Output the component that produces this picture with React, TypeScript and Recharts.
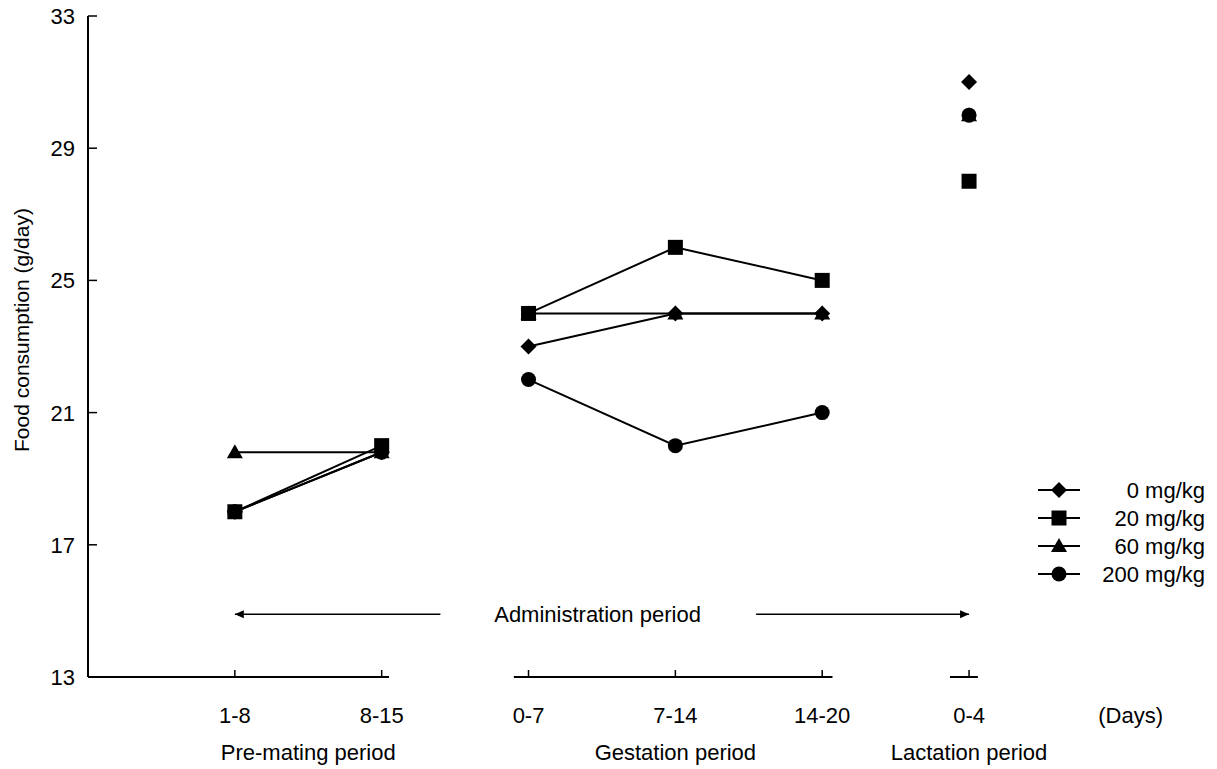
import { LineChart, Line, XAxis, YAxis, ReferenceLine, ReferenceDot } from 'recharts';

// x positions of the day ranges (three periods, gap between them)
const dayPositions = [1, 2, 3, 4, 5, 6];
const dayLabels = ['1-8', '8-15', '0-7', '7-14', '14-20', '0-4'];
const periodOfDay = [0, 0, 1, 1, 1, 2];

const periodPositions = [1.5, 4, 6];
const periodLabels = ['Pre-mating period', 'Gestation period', 'Lactation period'];

const yTicks = [13, 17, 21, 25, 29, 33];

const dose0 = [18, 19.8, 23, 24, 24, 31];
const dose20 = [18, 20, 24, 26, 25, 28];
const dose60 = [19.8, 19.8, 24, 24, 24, 30];
const dose200 = [18, 19.8, 22, 20, 21, 30];

// broken x-axis baseline pieces and the administration arrow
const axisPieces = [[0, 2.05], [2.9, 5.07], [5.87, 6.06]];
const arrowY = 14.9;
const arrowLeft = [1, 2.4];
const arrowRight = [4.55, 6];
const arrowTextX = 3.47;
const daysUnitX = 7.1;

const FONT = '"Liberation Sans", Arial, Helvetica, sans-serif';
const FS = 22;

type Shape = 'diamond' | 'square' | 'triangle' | 'circle';

const series: { name: string; values: number[]; shape: Shape }[] = [
  { name: '0 mg/kg', values: dose0, shape: 'diamond' },
  { name: '60 mg/kg', values: dose60, shape: 'triangle' },
  { name: '200 mg/kg', values: dose200, shape: 'circle' },
  { name: '20 mg/kg', values: dose20, shape: 'square' },
];
const legendOrder = ['0 mg/kg', '20 mg/kg', '60 mg/kg', '200 mg/kg'];

const Marker = ({ cx, cy, shape }: { cx: number; cy: number; shape: Shape }) => {
  if (cx == null || cy == null) return null;
  if (shape === 'square') return <rect x={cx - 7.5} y={cy - 7.5} width={15} height={15} fill="#000" />;
  if (shape === 'circle') return <circle cx={cx} cy={cy} r={7.5} fill="#000" />;
  if (shape === 'triangle')
    return <path d={`M${cx},${cy - 8} L${cx + 8},${cy + 6} L${cx - 8},${cy + 6} Z`} fill="#000" />;
  return <path d={`M${cx},${cy - 8} L${cx + 8},${cy} L${cx},${cy + 8} L${cx - 8},${cy} Z`} fill="#000" />;
};

const groups = [0, 1, 2];

// day label + tick mark, and the period name one row below
const DayTick = (props: any) => {
  const { x, y, payload } = props;
  const i = dayPositions.indexOf(payload.value);
  const p = periodPositions.indexOf(payload.value);
  const isDays = payload.value === daysUnitX;
  return (
    <g>
      {i >= 0 && <line x1={x} x2={x} y1={y - 30} y2={y - 37} stroke="#000" strokeWidth={1.5} />}
      {(i >= 0 || isDays) && (
        <text x={x} y={y} dy="0.71em" textAnchor="middle" fontSize={FS} fontFamily={FONT} fill="#000">
          {i >= 0 ? dayLabels[i] : '(Days)'}
        </text>
      )}
      {p >= 0 && (
        <text x={x} y={y + 37} dy="0.71em" textAnchor="middle" fontSize={FS} fontFamily={FONT} fill="#000">
          {periodLabels[p]}
        </text>
      )}
    </g>
  );
};

const YTick = (props: any) => {
  const { x, y, payload } = props;
  return (
    <text x={x} y={y} dy="0.36em" textAnchor="end" fontSize={FS} fontFamily={FONT} fill="#000">
      {payload.value}
    </text>
  );
};

const LegendBox = () => (
  <svg width={185} height={120} style={{ position: 'absolute', left: 1025, top: 473 }}>
    {legendOrder.map((name, i) => {
      const s = series.find((d) => d.name === name)!;
      const cy = 17 + i * 28;
      return (
        <g key={name}>
          <line x1={5} x2={47} y1={cy} y2={cy} stroke="#000" strokeWidth={2} />
          <Marker cx={26} cy={cy} shape={s.shape} />
          <text x={172} y={cy} dy="0.35em" textAnchor="end" fontSize={FS} fontFamily={FONT} fill="#000">
            {name}
          </text>
        </g>
      );
    })}
  </svg>
);

const LeftArrow = ({ cx, cy }: any) => (
  <path d={`M${cx},${cy} L${cx + 9},${cy - 4} L${cx + 9},${cy + 4} Z`} fill="#000" />
);
const RightArrow = ({ cx, cy }: any) => (
  <path d={`M${cx},${cy} L${cx - 9},${cy - 4} L${cx - 9},${cy + 4} Z`} fill="#000" />
);

const allTicks = [...dayPositions, daysUnitX, ...periodPositions.filter((v) => !dayPositions.includes(v))].sort(
  (a, b) => a - b
);

const FoodConsumptionChart = () => {
  return (
    <div style={{ position: 'relative', width: 1209, height: 769, margin: '-8px 0 0 0' }}>
      <LineChart width={1209} height={769} margin={{ top: 16, right: 13, left: 0, bottom: 0 }}>
        <XAxis
          type="number"
          dataKey="x"
          domain={[0, 7.6]}
          ticks={allTicks}
          interval={0}
          axisLine={false}
          tickLine={false}
          tickSize={0}
          tickMargin={30}
          height={92}
          tick={<DayTick />}
        />
        <YAxis
          type="number"
          domain={[13, 33]}
          ticks={yTicks}
          interval={0}
          width={80}
          axisLine={{ stroke: '#000', strokeWidth: 2 }}
          tickLine={{ stroke: '#000', strokeWidth: 1.5 }}
          tickSize={-9}
          tickMargin={22}
          tick={<YTick />}
          label={{
            content: () => (
              <text
                x={13}
                y={330}
                transform="rotate(-90 13 330)"
                textAnchor="middle"
                dominantBaseline="central"
                fontSize={21}
                fontFamily={FONT}
                fill="#000"
              >
                Food consumption (g/day)
              </text>
            ),
          }}
        />
        {axisPieces.map(([a, b], i) => (
          <ReferenceLine
            key={`ax${i}`}
            segment={[{ x: a, y: 13 }, { x: b, y: 13 }]}
            stroke="#000"
            strokeWidth={2}
            ifOverflow="visible"
          />
        ))}
        <ReferenceLine
          segment={[{ x: arrowLeft[0], y: arrowY }, { x: arrowLeft[1], y: arrowY }]}
          stroke="#000"
          strokeWidth={1.5}
        />
        <ReferenceLine
          segment={[{ x: arrowRight[0], y: arrowY }, { x: arrowRight[1], y: arrowY }]}
          stroke="#000"
          strokeWidth={1.5}
        />
        <ReferenceDot x={arrowLeft[0]} y={arrowY} r={4} shape={<LeftArrow />} />
        <ReferenceDot x={arrowRight[1]} y={arrowY} r={4} shape={<RightArrow />} />
        <ReferenceDot
          x={arrowTextX}
          y={arrowY}
          r={0}
          fill="none"
          stroke="none"
          label={{ value: 'Administration period', position: 'center', fontSize: FS, fontFamily: FONT, fill: '#000' }}
        />
        {series.map((s) =>
          groups.map((g) => {
            const rows = dayPositions
              .map((x, i) => ({ x, y: s.values[i], g: periodOfDay[i] }))
              .filter((r) => r.g === g);
            return (
              <Line
                key={`${s.name}-${g}`}
                data={rows}
                dataKey="y"
                name={s.name}
                stroke="#000"
                strokeWidth={2}
                isAnimationActive={false}
                dot={(p: any) => <Marker key={`${s.name}-${g}-${p.index}`} cx={p.cx} cy={p.cy} shape={s.shape} />}
                activeDot={false}
                legendType="none"
              />
            );
          })
        )}
      </LineChart>
      <LegendBox />
    </div>
  );
};

export default function App() {
  return <FoodConsumptionChart />;
}
